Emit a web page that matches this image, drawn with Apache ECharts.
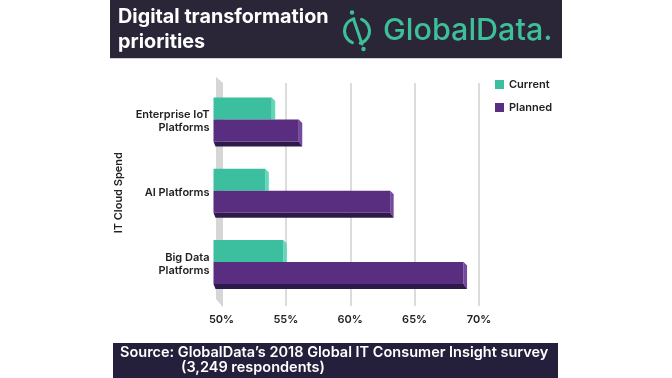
<!DOCTYPE html>
<html><head><meta charset="utf-8">
<script src="https://cdn.jsdelivr.net/npm/echarts@6/dist/echarts.min.js"></script>
<style>html,body{margin:0;padding:0;background:#fff}#c{width:672px;height:378px}</style>
</head><body><div id="c"></div>
<script>
const categories = ['Enterprise IoT\nPlatforms', 'AI Platforms', 'Big Data\nPlatforms'];
const seriesNames = ['Current', 'Planned'];
const currentValues = [53.9, 53.4, 54.8];
const plannedValues = [56.0, 63.1, 68.8];
const axisMin = 50, axisMax = 70, axisStep = 5;

const FONT = 'Inter, "Noto Sans", sans-serif';
const TEAL = '#3cbf9f', TEAL_SIDE = '#62d6b6';
const PURPLE = '#592d80', PURPLE_SIDE = '#74499e', PURPLE_BOTTOM = '#2e1a4a';

function barRender(kind) {
  return function (params, api) {
    const v = api.value(0), c = api.value(1);
    const p = api.coord([v, c]);
    const s = api.coord([axisMin, c]);
    const cy = p[1];
    const x0 = s[0] - 8, x1 = p[0];
    const d = 3.5;
    const children = [];
    if (kind === 0) {
      const y0 = cy - 24, y1 = cy - 2;
      children.push({type: 'polygon', shape: {points: [[x1, y0], [x1 + d, y0 + d], [x1 + d, y1], [x1, y1]]}, style: {fill: TEAL_SIDE}});
      children.push({type: 'rect', shape: {x: x0, y: y0, width: x1 - x0, height: y1 - y0}, style: {fill: TEAL}});
    } else {
      const y0 = cy - 2, y1 = cy + 20, b = 5;
      children.push({type: 'polygon', shape: {points: [[x1, y0], [x1 + d, y0 + d], [x1 + d, y1 + b], [x1, y1]]}, style: {fill: PURPLE_SIDE}});
      children.push({type: 'polygon', shape: {points: [[x0, y1], [x1, y1], [x1 + d, y1 + b], [x0 + 2, y1 + b]]}, style: {fill: PURPLE_BOTTOM}});
      children.push({type: 'rect', shape: {x: x0, y: y0, width: x1 - x0, height: y1 - y0}, style: {fill: PURPLE}});
    }
    return {type: 'group', children: children};
  };
}

function wallRender(params, api) {
  const x = api.coord([api.value(0), 0])[0];
  const cs = params.coordSys;
  const top = cs.y, bot = cs.y + cs.height;
  return {type: 'polygon', shape: {points: [[x - 5.5, top - 6], [x + 1.5, top], [x + 1.5, bot + 1], [x - 5.5, bot - 7]]}, style: {fill: '#d6d6d6'}};
}

const chart = echarts.init(document.getElementById('c'), null, {renderer: 'canvas'});
chart.setOption({
  animation: false,
  backgroundColor: '#ffffff',
  textStyle: {fontFamily: FONT},
  grid: [
    {left: 221.5, right: 193, top: 83, bottom: 72},
    {left: 221.5, right: 193, top: 86, height: 213.5}
  ],
  legend: {
    data: seriesNames, orient: 'vertical', left: 490, top: 74,
    itemWidth: 9, itemHeight: 9, itemGap: 12, icon: 'rect',
    textStyle: {fontFamily: FONT, fontSize: 11, fontWeight: 600, color: '#222'}
  },
  xAxis: [
    {type: 'value', gridIndex: 0, min: axisMin, max: axisMax, interval: axisStep,
     axisLine: {show: false}, axisTick: {show: false},
     splitLine: {show: true, lineStyle: {color: '#dcdcdc', width: 2}},
     axisLabel: {formatter: '{value}%', margin: 8, fontFamily: FONT, fontSize: 11, fontWeight: 600, color: '#222'}},
    {type: 'value', gridIndex: 1, min: axisMin, max: axisMax, interval: axisStep, show: false}
  ],
  yAxis: [
    {type: 'value', gridIndex: 0, min: 0, max: 1, show: false},
    {type: 'category', gridIndex: 1, data: categories, inverse: true,
     axisLine: {show: false}, axisTick: {show: false},
     axisLabel: {margin: 12, fontFamily: FONT, fontSize: 11, fontWeight: 600, color: '#222', lineHeight: 13, align: 'right'},
     name: 'IT Cloud Spend', nameLocation: 'middle', nameGap: 97, nameRotate: 90,
     nameTextStyle: {fontFamily: FONT, fontSize: 11, fontWeight: 600, color: '#222'}}
  ],
  series: [
    {type: 'custom', name: 'wall', xAxisIndex: 0, yAxisIndex: 0, silent: true, data: [[axisMin, 0]], renderItem: wallRender},
    {type: 'custom', name: seriesNames[0], xAxisIndex: 1, yAxisIndex: 1, itemStyle: {color: TEAL},
     encode: {x: 0, y: 1}, data: currentValues.map((v, i) => [v, i]), renderItem: barRender(0)},
    {type: 'custom', name: seriesNames[1], xAxisIndex: 1, yAxisIndex: 1, itemStyle: {color: PURPLE},
     encode: {x: 0, y: 1}, data: plannedValues.map((v, i) => [v, i]), renderItem: barRender(1)}
  ],
  graphic: [
    {type: 'rect', shape: {x: 110, y: 0, width: 452, height: 58}, style: {fill: '#2a2637'}, z: 10},
    {type: 'rect', shape: {x: 110, y: 58, width: 452, height: 1}, style: {fill: '#cfcfd4'}, z: 10},
    {type: 'text', x: 118, y: 17, z: 11, style: {text: 'Digital transformation', fill: '#fff', font: 'bold 19.8px ' + FONT, verticalAlign: 'middle'}},
    {type: 'text', x: 118, y: 42, z: 11, style: {text: 'priorities', fill: '#fff', font: 'bold 19.8px ' + FONT, verticalAlign: 'middle'}},
    {type: 'arc', z: 11, shape: {cx: 357, cy: 31, r: 12.5, startAngle: Math.PI * 0.62, endAngle: Math.PI * 1.42}, style: {stroke: '#3dbf98', lineWidth: 3, fill: null, lineCap: 'round'}},
    {type: 'arc', z: 11, shape: {cx: 357, cy: 31, r: 12.5, startAngle: Math.PI * 1.62, endAngle: Math.PI * 2.42}, style: {stroke: '#3dbf98', lineWidth: 3, fill: null, lineCap: 'round'}},
    {type: 'line', z: 11, shape: {x1: 353.5, y1: 19, x2: 362, y2: 44}, style: {stroke: '#3dbf98', lineWidth: 3, lineCap: 'round'}},
    {type: 'circle', z: 11, shape: {cx: 352, cy: 12.5, r: 2.2}, style: {fill: '#3dbf98'}},
    {type: 'circle', z: 11, shape: {cx: 363.5, cy: 49, r: 2.2}, style: {fill: '#3dbf98'}},
    {type: 'text', x: 383, y: 31, z: 11, style: {text: 'GlobalData.', fill: '#3dbf98', font: '500 30.5px ' + FONT, verticalAlign: 'middle'}},
    {type: 'rect', shape: {x: 113, y: 343, width: 445, height: 35}, style: {fill: '#241f3a'}, z: 10},
    {type: 'text', x: 120, y: 353, z: 11, style: {text: 'Source: GlobalData\u2019s 2018 Global IT Consumer Insight survey', fill: '#fff', font: '600 14.5px ' + FONT, verticalAlign: 'middle'}},
    {type: 'text', x: 181, y: 368, z: 11, style: {text: '(3,249 respondents)', fill: '#fff', font: '600 14.5px ' + FONT, verticalAlign: 'middle'}}
  ]
});
</script></body></html>
